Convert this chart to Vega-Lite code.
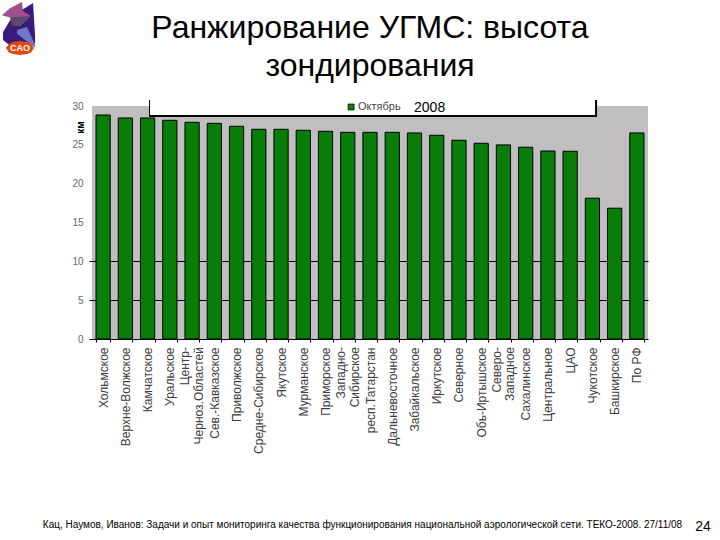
{"$schema":"https://vega.github.io/schema/vega-lite/v6.json","width":556,"height":233,"autosize":"none","padding":{"left":92,"top":106,"right":72,"bottom":201},"background":"white","view":{"fill":"#c0bec0","stroke":null},"datasets":{"ugms":[{"name":"Хольмское","km":28.84},{"name":"Верхне-Волжское","km":28.46},{"name":"Камчатское","km":28.46},{"name":"Уральское","km":28.16},{"name":"Центр-|Черноз.Областей","km":27.9},{"name":"Сев.-Кавказское","km":27.77},{"name":"Приволжское","km":27.39},{"name":"Средне-Сибирское","km":27.0},{"name":"Якутское","km":27.0},{"name":"Мурманское","km":26.87},{"name":"Приморское","km":26.74},{"name":"Западно-|Сибирское","km":26.61},{"name":"респ.Татарстан","km":26.61},{"name":"Дальневосточное","km":26.61},{"name":"Забайкальское","km":26.53},{"name":"Иркутское","km":26.23},{"name":"Северное","km":25.59},{"name":"Обь-Иртышское","km":25.2},{"name":"Северо-|Западное","km":24.99},{"name":"Сахалинское","km":24.69},{"name":"Центральное","km":24.21},{"name":"ЦАО","km":24.17},{"name":"Чукотское","km":18.13},{"name":"Башкирское","km":16.84},{"name":"По РФ","km":26.53}],"logo":[{"part":"a","x":-4.0,"y":39.5,"y2":38.5},{"part":"a","x":-3.69,"y":41,"y2":37.8},{"part":"a","x":-3.24,"y":42.2,"y2":37.5},{"part":"a","x":-2.65,"y":43.26,"y2":38},{"part":"a","x":-2.56,"y":39,"y2":38},{"part":"b","x":-4.05,"y":41.7,"y2":41.7},{"part":"b","x":-3.69,"y":42.6,"y2":41.4},{"part":"b","x":-3.15,"y":43.39,"y2":41.5},{"part":"b","x":-3.1,"y":42.2,"y2":41.5},{"part":"b","x":-2.79,"y":41.7,"y2":41.5},{"part":"c","x":-3.69,"y":41.4,"y2":41.4},{"part":"c","x":-3.6,"y":41.45,"y2":40.4},{"part":"c","x":-3.24,"y":41.45,"y2":40.2},{"part":"c","x":-2.79,"y":41.45,"y2":41.4},{"part":"d","x":-3.37,"y":39.8,"y2":39.3},{"part":"d","x":-2.92,"y":40.17,"y2":38.3},{"part":"d","x":-2.56,"y":37.9,"y2":37.5},{"part":"e","x":-3.87,"y":37.47,"y2":37.47},{"part":"e","x":-3.73,"y":38.0,"y2":36.9},{"part":"e","x":-3.55,"y":38.25,"y2":36.7},{"part":"e","x":-3.24,"y":38.37,"y2":36.57},{"part":"e","x":-2.92,"y":38.25,"y2":36.7},{"part":"e","x":-2.74,"y":38.0,"y2":36.9},{"part":"e","x":-2.61,"y":37.47,"y2":37.47}]},"resolve":{"scale":{"x":"independent"},"axis":{"y":"independent"}},"layer":[{"data":{"name":"ugms"},"mark":{"type":"bar","fill":"#087d08","stroke":"#000000","strokeWidth":1},"encoding":{"x":{"field":"name","type":"nominal","sort":null,"scale":{"paddingInner":0.36,"paddingOuter":0.18},"axis":{"title":"Кац, Наумов, Иванов: Задачи и опыт мониторинга качества функционирования национальной аэрологической сети. ТЕКО-2008. 27/11/08","titleFont":"Liberation Sans","titleFontSize":10,"titleFontWeight":"normal","titleColor":"#000000","titleX":270,"titleY":185,"titleAnchor":"middle","titleBaseline":"middle","labelExpr":"indexof(datum.label,'|')>=0?'':datum.label","labelAngle":-90,"labelBaseline":"middle","labelAlign":"right","labelFont":"Liberation Sans","labelFontSize":12,"labelColor":"#3c3c3c","labelOverlap":false,"labelLimit":200,"labelPadding":5,"labelBound":false,"tickBand":"extent","tickColor":"#000000","tickSize":3,"domainColor":"#000000","grid":false}},"y":{"field":"km","type":"quantitative","scale":{"domain":[0,30],"nice":false},"axis":{"title":"км","titleFont":"Liberation Sans","titleFontSize":10,"titleFontWeight":"bold","titleColor":"#000000","titleX":-7,"titleY":21,"values":[0,5,10,15,20,25,30],"labelFont":"Liberation Sans","labelFontSize":10,"labelColor":"#666666","labelPadding":6,"tickSize":3,"tickColor":"#000000","tickOpacity":{"condition":{"test":"datum.value<=10","value":1},"value":0},"domain":false,"grid":true,"gridColor":"#000000","gridOpacity":{"condition":{"test":"datum.value==5||datum.value==10","value":1},"value":0}}}}},{"data":{"values":[{"x":4.19,"y":-1.03,"t":"Центр-"},{"x":4.81,"y":-1.03,"t":"Черноз.Областей"},{"x":11.19,"y":-1.03,"t":"Западно-"},{"x":11.81,"y":-1.03,"t":"Сибирское"},{"x":18.19,"y":-1.03,"t":"Северо-"},{"x":18.81,"y":-1.03,"t":"Западное"}]},"mark":{"type":"text","angle":270,"align":"right","baseline":"middle","font":"Liberation Sans","fontSize":12,"color":"#3c3c3c"},"encoding":{"x":{"field":"x","type":"quantitative","scale":{"domain":[0,25],"nice":false},"axis":null},"y":{"field":"y","type":"quantitative","scale":{"domain":[0,30],"nice":false},"axis":null},"text":{"field":"t"}}},{"data":{"values":[{"x":2.563,"x2":22.71,"y":30.77,"y2":28.58}]},"mark":{"type":"rect","fill":"#000000"},"encoding":{"x":{"field":"x","type":"quantitative","scale":{"domain":[0,25],"nice":false},"axis":null},"x2":{"field":"x2"},"y":{"field":"y","type":"quantitative","scale":{"domain":[0,30],"nice":false},"axis":null},"y2":{"field":"y2"}}},{"data":{"values":[{"x":2.608,"x2":22.62,"y":30.9,"y2":28.84}]},"mark":{"type":"rect","fill":"#ffffff"},"encoding":{"x":{"field":"x","type":"quantitative","scale":{"domain":[0,25],"nice":false},"axis":null},"x2":{"field":"x2"},"y":{"field":"y","type":"quantitative","scale":{"domain":[0,30],"nice":false},"axis":null},"y2":{"field":"y2"}}},{"data":{"values":[{"x":11.65,"y":29.87}]},"mark":{"type":"square","size":36,"fill":"#087d08","stroke":"#000000","strokeWidth":0.7,"opacity":1},"encoding":{"x":{"field":"x","type":"quantitative","scale":{"domain":[0,25],"nice":false},"axis":null},"y":{"field":"y","type":"quantitative","scale":{"domain":[0,30],"nice":false},"axis":null}}},{"data":{"values":[{"x":11.96,"y":29.87,"t":"Октябрь"}]},"mark":{"type":"text","align":"left","baseline":"middle","font":"Liberation Sans","fontSize":11,"color":"#444444"},"encoding":{"x":{"field":"x","type":"quantitative","scale":{"domain":[0,25],"nice":false},"axis":null},"y":{"field":"y","type":"quantitative","scale":{"domain":[0,30],"nice":false},"axis":null},"text":{"field":"t"}}},{"data":{"values":[{"x":14.48,"y":29.74,"t":"2008"}]},"mark":{"type":"text","align":"left","baseline":"middle","font":"Liberation Sans","fontSize":14,"color":"#000000"},"encoding":{"x":{"field":"x","type":"quantitative","scale":{"domain":[0,25],"nice":false},"axis":null},"y":{"field":"y","type":"quantitative","scale":{"domain":[0,30],"nice":false},"axis":null},"text":{"field":"t"}}},{"data":{"values":[{"x":27.47,"y":-24.2,"t":"24"}]},"mark":{"type":"text","align":"center","baseline":"middle","font":"Liberation Sans","fontSize":14,"color":"#000000"},"encoding":{"x":{"field":"x","type":"quantitative","scale":{"domain":[0,25],"nice":false},"axis":null},"y":{"field":"y","type":"quantitative","scale":{"domain":[0,30],"nice":false},"axis":null},"text":{"field":"t"}}},{"data":{"values":[{"x":12.5,"y":40.04,"t":"Ранжирование УГМС: высота"},{"x":12.5,"y":35.15,"t":"зондирования"}]},"mark":{"type":"text","align":"center","baseline":"middle","font":"Liberation Sans","fontSize":32,"color":"#000000"},"encoding":{"x":{"field":"x","type":"quantitative","scale":{"domain":[0,25],"nice":false},"axis":null},"y":{"field":"y","type":"quantitative","scale":{"domain":[0,30],"nice":false},"axis":null},"text":{"field":"t"}}},{"data":{"name":"logo"},"mark":{"type":"area","clip":false,"opacity":1},"encoding":{"x":{"field":"x","type":"quantitative","scale":{"domain":[0,25],"nice":false},"axis":null},"y":{"field":"y","type":"quantitative","scale":{"domain":[0,30],"nice":false},"axis":null},"y2":{"field":"y2"},"color":{"field":"part","type":"nominal","legend":null,"scale":{"domain":["a","b","c","d","e"],"range":["#3c1a7c","#a04f90","#5a4a6a","#6f78c8","#e04a10"]}}}},{"data":{"values":[{"x":-3.24,"y":37.45,"t":"CAO"}]},"mark":{"type":"text","align":"center","baseline":"middle","font":"Liberation Sans","fontSize":9,"fontWeight":"bold","color":"#ffffff"},"encoding":{"x":{"field":"x","type":"quantitative","scale":{"domain":[0,25],"nice":false},"axis":null},"y":{"field":"y","type":"quantitative","scale":{"domain":[0,30],"nice":false},"axis":null},"text":{"field":"t"}}}]}
